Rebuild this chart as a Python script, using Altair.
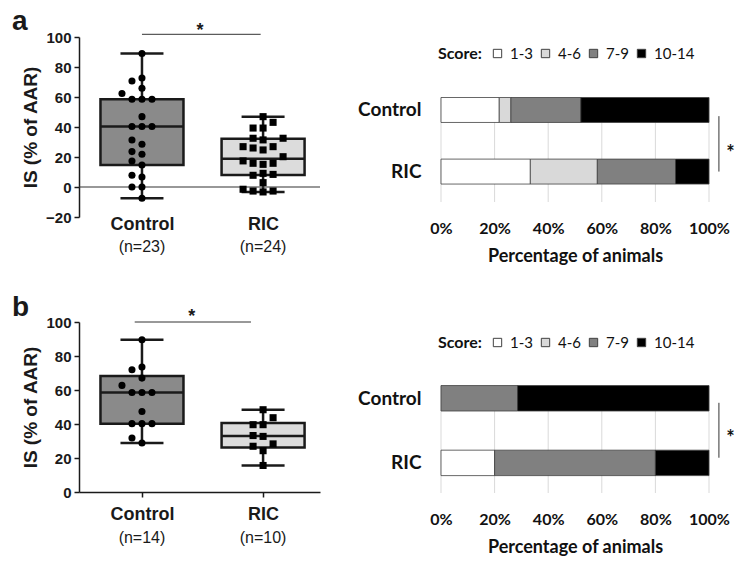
import altair as alt
import numpy as np
import pandas as pd

# ---------------- data ----------------
groups = ["Control", "RIC"]
n_labels_a = ["(n=23)", "(n=24)"]
n_labels_b = ["(n=14)", "(n=10)"]

is_a_control = [89, 72.7, 70.7, 65.8, 62.3, 58.5, 58.5, 58.5, 46.9, 40.3, 40.3, 40.3,
                31.3, 28.5, 23.6, 21.8, 17.3, 14.7, 7.8, 6.7, 0, 0, -7.5]
is_a_ric = [46.9, 43.1, 39.3, 39.3, 32.5, 32.5, 31.4, 26.9, 26.0, 24.7, 26.9, 20.2,
            15.8, 15.1, 15.8, 17.4, 8.4, 7.8, 9.1, 2.9, -2.7, -3.3, -2.7, -1.5]
is_b_control = [89.6, 73.5, 71.9, 67.0, 62.7, 58.5, 58.5, 58.5, 47.4, 40.2, 40.2, 40.2,
                31.8, 28.8]
is_b_ric = [48.4, 43.7, 39.6, 39.6, 32.7, 33.2, 26.9, 28.3, 24.3, 15.6]

score_cats = ["1-3", "4-6", "7-9", "10-14"]
counts_a_control = [5, 1, 6, 11]
counts_a_ric = [8, 6, 7, 3]
counts_b_control = [0, 0, 4, 10]
counts_b_ric = [2, 0, 6, 2]
pct_ticks = [0, 0.2, 0.4, 0.6, 0.8, 1.0]

sig_label = "*"

# ---------------- styling ----------------
BOX_FONT = "Liberation Sans"
BAR_FONT = "Lato"
INK = "#1a1a1a"
BOX_FILLS = ["#8a8a8a", "#dcdcdc"]
SCORE_COLORS = ["#ffffff", "#d9d9d9", "#808080", "#000000"]

BOX_W = 241
XDOM = [0.48, 2.47]


def swarm_offsets(values, px_per_unit, step=10.0, min_dist=8.5):
    """Greedy beeswarm: returns horizontal pixel offsets for each value."""
    order = np.argsort(values, kind="stable")
    placed = []
    offs = [0.0] * len(values)
    cands = [0, -1, 1, -2, 2, -3, 3]
    for i in order:
        yp = values[i] * px_per_unit
        for c in cands:
            xp = c * step
            if all((xp - px) ** 2 + (yp - py) ** 2 >= min_dist ** 2 for px, py in placed):
                placed.append((xp, yp))
                offs[i] = xp
                break
    return offs


def box_panel(letter, letter_y, ctrl, ric, nlabels, ydom, yticks, height, sig_y, sig_x,
              star_xy, nlab_y, zero_line, x_domain_line, x_label_pad):
    py = height / (ydom[1] - ydom[0])
    px = BOX_W / (XDOM[1] - XDOM[0])
    pts = []
    stats = []
    for gi, (g, vals) in enumerate(zip(groups, [ctrl, ric])):
        pos = gi + 1
        offs = swarm_offsets(vals, py)
        for v, o in zip(vals, offs):
            pts.append({"group": g, "x": pos + o / px, "v": v})
        q1, med, q3 = np.percentile(vals, [25, 50, 75], method="weibull")
        hw = 41.5 / px
        cw = 21.5 / px
        stats.append({"group": g, "x": pos, "xl": pos - hw, "xr": pos + hw,
                      "cl": pos - cw, "cr": pos + cw, "lo": min(vals), "q1": q1,
                      "med": med, "q3": q3, "hi": max(vals), "nlab": nlabels[gi],
                      "ny": nlab_y})
    pts = pd.DataFrame(pts)
    st = pd.DataFrame(stats)

    xscale = alt.Scale(domain=XDOM, nice=False, zero=False)
    yscale = alt.Scale(domain=ydom, nice=False, zero=False)
    label_expr = "datum.value == 1 ? '%s' : '%s'" % (groups[0], groups[1])
    xaxis = alt.Axis(values=[1, 2], labelExpr=label_expr, title=None, grid=False,
                     domain=x_domain_line, domainColor=INK, domainWidth=1.5,
                     ticks=x_domain_line, tickSize=5, tickColor=INK, tickWidth=1.5,
                     labelFont=BOX_FONT, labelFontSize=18, labelFontWeight="bold",
                     labelColor=INK, labelPadding=x_label_pad)
    yaxis = alt.Axis(values=yticks, title="IS (% of AAR)", grid=False,
                     domainColor=INK, domainWidth=1.5, tickColor=INK, tickWidth=1.5,
                     tickSize=5, labelFont=BOX_FONT, labelFontSize=15,
                     labelFontWeight="bold", labelColor=INK, labelPadding=3,
                     titleFont=BOX_FONT, titleFontSize=19, titleFontWeight="bold",
                     titleColor=INK, titlePadding=5)

    def X(f):
        return alt.X(f, scale=xscale, axis=xaxis)

    def Y(f):
        return alt.Y(f, scale=yscale, axis=yaxis)

    base = alt.Chart(st)
    whisk = base.mark_rule(color=INK, strokeWidth=2.5).encode(
        x=X("x:Q"), y=Y("lo:Q"), y2="hi:Q")
    box = base.mark_rect(stroke=INK, strokeWidth=2.5).encode(
        x=X("xl:Q"), x2="xr:Q", y=Y("q1:Q"), y2="q3:Q",
        fill=alt.Fill("group:N", scale=alt.Scale(domain=groups, range=BOX_FILLS),
                      legend=None))
    cap_lo = base.mark_rule(color=INK, strokeWidth=2.5).encode(
        x=X("cl:Q"), x2="cr:Q", y=Y("lo:Q"))
    cap_hi = base.mark_rule(color=INK, strokeWidth=2.5).encode(
        x=X("cl:Q"), x2="cr:Q", y=Y("hi:Q"))
    med = base.mark_rule(color=INK, strokeWidth=2.5).encode(
        x=X("xl:Q"), x2="xr:Q", y=Y("med:Q"))
    points = alt.Chart(pts).mark_point(filled=True, opacity=1, color="black", size=50).encode(
        x=X("x:Q"), y=Y("v:Q"),
        shape=alt.Shape("group:N", scale=alt.Scale(domain=groups, range=["circle", "square"]),
                        legend=None))
    nlab = base.mark_text(font=BOX_FONT, fontSize=16, color=INK, baseline="middle").encode(
        x=X("x:Q"), y=Y("ny:Q"), text="nlab:N")
    sig = pd.DataFrame({"x": [sig_x[0]], "x2": [sig_x[1]], "y": [sig_y],
                        "sx": [star_xy[0]], "sy": [star_xy[1]], "t": [sig_label],
                        "lx": [XDOM[0] - 67 / px], "ly": [letter_y], "lt": [letter]})
    sig_line = alt.Chart(sig).mark_rule(color="#333", strokeWidth=1).encode(
        x=X("x:Q"), x2="x2:Q", y=Y("y:Q"))
    star = alt.Chart(sig).mark_text(font=BOX_FONT, fontSize=18, fontWeight="bold",
                                    color=INK, baseline="middle").encode(
        x=X("sx:Q"), y=Y("sy:Q"), text="t:N")
    panel_letter = alt.Chart(sig).mark_text(font=BOX_FONT, fontSize=28, fontWeight="bold",
                                            color=INK, align="left",
                                            baseline="alphabetic").encode(
        x=X("lx:Q"), y=Y("ly:Q"), text="lt:N")
    layers = [whisk]
    if zero_line:
        zl = pd.DataFrame({"x": [XDOM[0]], "x2": [XDOM[1]], "y": [0]})
        layers.append(alt.Chart(zl).mark_rule(color="#333", strokeWidth=1.2).encode(
            x=X("x:Q"), x2="x2:Q", y=Y("y:Q")))
    layers += [box, cap_lo, cap_hi, med, points, nlab, sig_line, star, panel_letter]
    return alt.layer(*layers).properties(width=BOX_W, height=height)


def bar_panel(ctrl_counts, ric_counts, height, ydom, half, legend_y, bracket_y, star_y):
    rows = []
    for gi, (g, counts) in enumerate(zip(groups, [ctrl_counts, ric_counts])):
        total = sum(counts)
        cum = 0.0
        for k, (s, c) in enumerate(zip(score_cats, counts)):
            share = c / total
            if c > 0:
                rows.append({"group": g, "score": s, "x0": cum, "x1": cum + share,
                             "yt": gi - half, "yb": gi + half})
            cum += share
    df = pd.DataFrame(rows)
    yscale = alt.Scale(domain=ydom, nice=False, zero=False)
    xscale = alt.Scale(domain=[0, 1], nice=False)
    xaxis = alt.Axis(format="%", values=pct_ticks, grid=False, labelOverlap=False,
                     labelFlush=False, domain=False, ticks=False, labelFont=BAR_FONT,
                     labelFontSize=16, labelFontWeight="bold", labelColor="#111",
                     labelPadding=18, title="Percentage of animals",
                     titleFont=BAR_FONT, titleFontSize=18,
                     titleFontWeight="bold", titleColor="#111", titlePadding=11)
    label_expr = "datum.value == 0 ? '%s' : '%s'" % (groups[0], groups[1])
    yaxis = alt.Axis(values=[0, 1], labelExpr=label_expr, title=None, domain=False,
                     ticks=False, grid=False, labelFont=BAR_FONT, labelFontSize=19,
                     labelFontWeight="bold", labelColor="#111", labelPadding=20)

    def X(f):
        return alt.X(f, scale=xscale, axis=xaxis)

    def Y(f):
        return alt.Y(f, scale=yscale, axis=yaxis)

    grid = pd.DataFrame({"x": pct_ticks, "yt": [-half] * len(pct_ticks),
                         "yb": [ydom[0]] * len(pct_ticks)})
    gridlines = alt.Chart(grid).mark_rule(color="#d9d9d9", strokeWidth=1).encode(
        x=X("x:Q"), y=Y("yt:Q"), y2="yb:Q")
    bars = alt.Chart(df).mark_rect(stroke="#404040", strokeWidth=0.8).encode(
        x=X("x0:Q"), x2="x1:Q", y=Y("yt:Q"), y2="yb:Q",
        color=alt.Color("score:N", scale=alt.Scale(domain=score_cats, range=SCORE_COLORS),
                        legend=alt.Legend(title="Score:", orient="none", legendX=-3,
                                          legendY=legend_y, direction="horizontal",
                                          titleOrient="left", gridAlign="none",
                                          symbolType="square", symbolSize=70,
                                          symbolStrokeColor="#404040",
                                          symbolStrokeWidth=1, labelFont=BAR_FONT,
                                          labelFontSize=15, labelColor="#111",
                                          titleFont=BAR_FONT, titleFontSize=16,
                                          titleFontWeight="bold", titleColor="#111",
                                          titlePadding=8, columnPadding=5,
                                          labelOffset=5)))
    br = pd.DataFrame({"x": [1.037], "y": [bracket_y[0]], "y2": [bracket_y[1]],
                       "sx": [1.08], "sy": [star_y], "t": [sig_label]})
    bracket = alt.Chart(br).mark_rule(color="#333", strokeWidth=1).encode(
        x=X("x:Q"), y=Y("y:Q"), y2="y2:Q")
    star = alt.Chart(br).mark_text(font=BAR_FONT, fontSize=20, fontWeight="bold",
                                   color="#111", baseline="middle").encode(
        x=X("sx:Q"), y=Y("sy:Q"), text="t:N")
    return alt.layer(gridlines, bars, bracket, star).properties(width=268, height=height)


box_a = box_panel("a", 104.4, is_a_control, is_a_ric, n_labels_a, [-20, 100],
                  [-20, 0, 20, 40, 60, 80, 100], 180, 101.8, [1, 1.98], [1.48, 104],
                  -40.2, True, False, -2)
box_b = box_panel("b", 103.3, is_b_control, is_b_ric, n_labels_b, [0, 100],
                  [0, 20, 40, 60, 80, 100], 170, 100, [0.94, 1.9], [1.41, 103],
                  -26.9, False, True, 8)
bar_a = bar_panel(counts_a_control, counts_a_ric, 165, [1.494, -1.185], 0.2026, 9,
                  [0.1, 1.0], 0.71)
bar_b = bar_panel(counts_b_control, counts_b_ric, 163, [1.466, -1.057], 0.197, 5,
                  [0.07, 0.92], 0.63)


def indep(c):
    return c.resolve_scale(color="independent", shape="independent",
                           fill="independent").resolve_legend(color="independent")


left_col = indep(alt.vconcat(box_a, box_b, spacing=38))
right_col = indep(alt.vconcat(bar_a, bar_b, spacing=65))
chart = indep(alt.hconcat(left_col, right_col, spacing=36)).configure_view(
    stroke=None).properties(
    background="white", padding={"left": 4, "top": 0, "right": 0, "bottom": 0})

chart.save("out.html", embed_options={"renderer": "svg", "actions": False})
